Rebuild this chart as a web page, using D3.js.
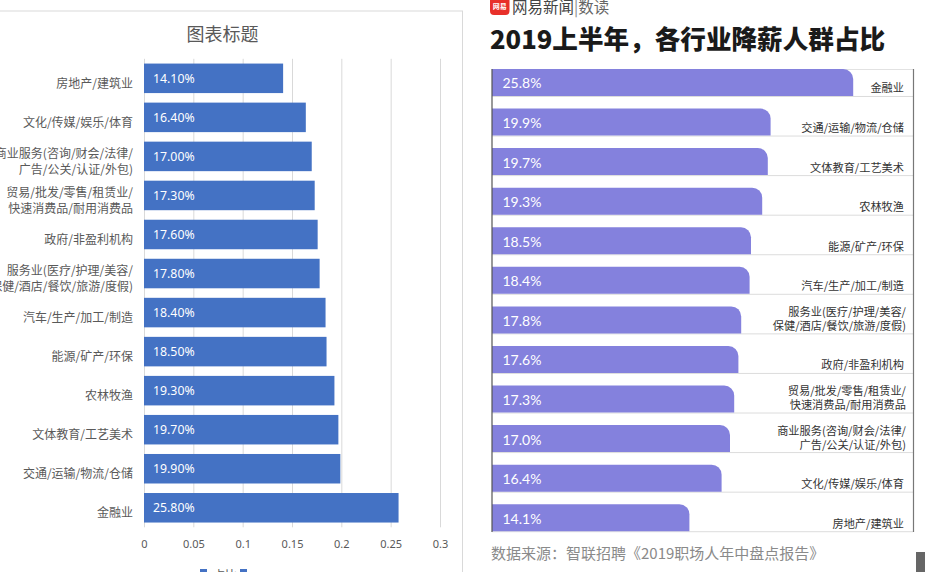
<!DOCTYPE html>
<html><head><meta charset="utf-8">
<script src="https://cdn.jsdelivr.net/npm/d3@7"></script>
<style>
html,body{margin:0;padding:0;background:#fff;overflow:hidden;}
svg{display:block;}
</style></head>
<body>
<svg id="c" width="936" height="572"></svg>
<script>
// ---- data ----
const categories = ["金融业","交通/运输/物流/仓储","文体教育/工艺美术","农林牧渔","能源/矿产/环保","汽车/生产/加工/制造","服务业(医疗/护理/美容/\n保健/酒店/餐饮/旅游/度假)","政府/非盈利机构","贸易/批发/零售/租赁业/\n快速消费品/耐用消费品","商业服务(咨询/财会/法律/\n广告/公关/认证/外包)","文化/传媒/娱乐/体育","房地产/建筑业"];
const shares = [0.258,0.199,0.197,0.193,0.185,0.184,0.178,0.176,0.173,0.170,0.164,0.141];
const excelTicks = [0,0.05,0.1,0.15,0.2,0.25,0.3];
const excelTitle = "图表标题";
const legendNames = ["占比",""];
const newsTitle = "2019上半年，各行业降薪人群占比";
const newsBrand = "网易新闻";
const newsColumn = "数读";
const newsSource = "数据来源：智联招聘《2019职场人年中盘点报告》";

const svg = d3.select("#c");
const rows = categories.map((c,i)=>({cat:c, v:shares[i]}));

// ================= LEFT: Excel chart =================
const L = svg.append("g");
L.append("rect").attr("x",-10).attr("y",11).attr("width",472.5).attr("height",600)
  .attr("fill","#fff").attr("stroke","#d9d9d9").attr("stroke-width",1);
L.append("text").attr("x",222.5).attr("y",33).attr("text-anchor","middle")
  .attr("dominant-baseline","central").attr("font-family","'Noto Sans CJK SC'")
  .attr("font-size",18).attr("fill","#595959").text(excelTitle);

const xL = d3.scaleLinear().domain([0,0.3]).range([144,440]);
const yL = d3.scaleBand().domain(categories.slice().reverse()).range([58.8,527.3])
  .paddingInner(0.244).paddingOuter(0.122);

L.append("g").selectAll("line").data(excelTicks).join("line")
  .attr("x1",d=>xL(d)+0.5).attr("x2",d=>xL(d)+0.5)
  .attr("y1",58.8).attr("y2",527.3).attr("stroke","#d9d9d9").attr("stroke-width",1);

const axL = L.append("g").attr("transform","translate(0,537)")
  .call(d3.axisBottom(xL).tickValues(excelTicks).tickFormat(d3.format("")).tickSize(0).tickPadding(3));
axL.select(".domain").remove();
axL.selectAll("text").attr("font-family","'Noto Sans','Noto Sans CJK SC'").attr("font-size",11).attr("fill","#595959");

L.append("g").selectAll("rect").data(rows).join("rect")
  .attr("x",xL(0)).attr("y",d=>yL(d.cat)).attr("width",d=>xL(d.v)-xL(0))
  .attr("height",yL.bandwidth()).attr("fill","#4472c4");

L.append("g").selectAll("text").data(rows).join("text")
  .attr("x",xL(0)+9).attr("y",d=>yL(d.cat)+yL.bandwidth()/2).attr("dominant-baseline","central")
  .attr("font-family","'Noto Sans','Noto Sans CJK SC'").attr("font-size",12.3).attr("fill","#fff")
  .text(d=>d3.format(".2%")(d.v));

const catL = L.append("g").selectAll("text").data(rows).join("text")
  .attr("text-anchor","end").attr("font-family","'Noto Sans CJK SC'").attr("font-size",12)
  .attr("fill","#595959").attr("dominant-baseline","central");
catL.each(function(d){
  const lines = d.cat.split("\n");
  const cy = yL(d.cat)+yL.bandwidth()/2+3.5;
  d3.select(this).selectAll("tspan").data(lines).join("tspan")
    .attr("x",133).attr("y",(l,i)=>cy+(i-(lines.length-1)/2)*16.5).text(l=>l);
});

const lg = L.append("g");
lg.append("rect").attr("x",200).attr("y",569).attr("width",7).attr("height",7).attr("fill","#4472c4");
lg.append("text").attr("x",213).attr("y",574).attr("dominant-baseline","central")
  .attr("font-family","'Noto Sans CJK SC'").attr("font-size",12).attr("fill","#595959").text(legendNames[0]+legendNames[1]);
lg.append("rect").attr("x",240).attr("y",569).attr("width",7).attr("height",7).attr("fill","#4472c4");

// ================= RIGHT: NetEase infographic =================
const R = svg.append("g");
R.append("rect").attr("x",490).attr("y",-5).attr("width",19.5).attr("height",20).attr("rx",4).attr("fill","#e8302a");
R.append("text").attr("x",499.7).attr("y",6).attr("text-anchor","middle").attr("dominant-baseline","central")
  .attr("font-family","'Noto Sans CJK SC'").attr("font-size",7).attr("font-weight","bold").attr("fill","#fff").text("网易");
const brand = R.append("text").attr("x",512).attr("y",6).attr("dominant-baseline","central")
  .attr("font-family","'Noto Sans CJK SC'").attr("font-size",15.5);
brand.append("tspan").attr("fill","#444").text(newsBrand);
brand.append("tspan").attr("fill","#888").text("|");
brand.append("tspan").attr("fill","#666").text(newsColumn);

R.append("text").attr("x",490).attr("y",49).attr("font-family","'Noto Sans CJK SC'")
  .attr("font-weight",900).attr("font-size",25.6).attr("fill","#1a1a1a").text(newsTitle);

const xR = d3.scaleLinear().domain([0,30]).range([492,912]);
const yR = d3.scaleBand().domain(categories).range([62.7,537.5]).paddingInner(0.318).paddingOuter(0.159);
const bw = yR.bandwidth();

R.append("line").attr("x1",492).attr("x2",913).attr("y1",69.5).attr("y2",69.5).attr("stroke","#e2e2e2");
R.append("g").selectAll("line").data(rows).join("line")
  .attr("x1",492).attr("x2",913).attr("y1",d=>yR(d.cat)+bw+0.5).attr("y2",d=>yR(d.cat)+bw+0.5)
  .attr("stroke","#dcdcdc").attr("stroke-width",1);

const r = 10;
R.append("g").selectAll("path").data(rows).join("path")
  .attr("d",d=>{
    const x0=xR(0), x1=xR(d.v*100), y0=yR(d.cat), y1=y0+bw;
    return `M${x0},${y0}H${x1-r}A${r},${r} 0 0 1 ${x1},${y0+r}V${y1}H${x0}Z`;
  })
  .attr("fill","#8481dd");

R.append("g").selectAll("text").data(rows).join("text")
  .attr("x",502.5).attr("y",d=>yR(d.cat)+bw/2+0.5).attr("dominant-baseline","central")
  .attr("font-family","Lato,'Noto Sans'").attr("font-size",14).attr("fill","#fff")
  .text(d=>d3.format(".1%")(d.v));

const catR = R.append("g").selectAll("text").data(rows).join("text")
  .attr("text-anchor","end").attr("font-family","'Noto Sans CJK SC'").attr("font-size",11.2)
  .attr("fill","#333").attr("dominant-baseline","central");
catR.each(function(d){
  const lines = d.cat.split("\n");
  const top = yR(d.cat);
  d3.select(this).selectAll("tspan").data(lines).join("tspan")
    .attr("x",lines.length>1?906:904)
    .attr("y",(l,i)=>top+18.5-(lines.length-1-i)*14).text(l=>l);
});

R.append("line").attr("x1",492).attr("x2",492).attr("y1",69).attr("y2",532).attr("stroke","#555").attr("stroke-width",1.2);
R.append("line").attr("x1",913.5).attr("x2",913.5).attr("y1",69).attr("y2",532).attr("stroke","#777").attr("stroke-width",1.2);

R.append("text").attr("x",491).attr("y",552).attr("dominant-baseline","central")
  .attr("font-family","'Noto Sans CJK SC'").attr("font-size",15).attr("fill","#8a8a8a").text(newsSource);
R.append("rect").attr("x",916).attr("y",552).attr("width",9).attr("height",22).attr("fill","#666");
</script>
</body></html>
